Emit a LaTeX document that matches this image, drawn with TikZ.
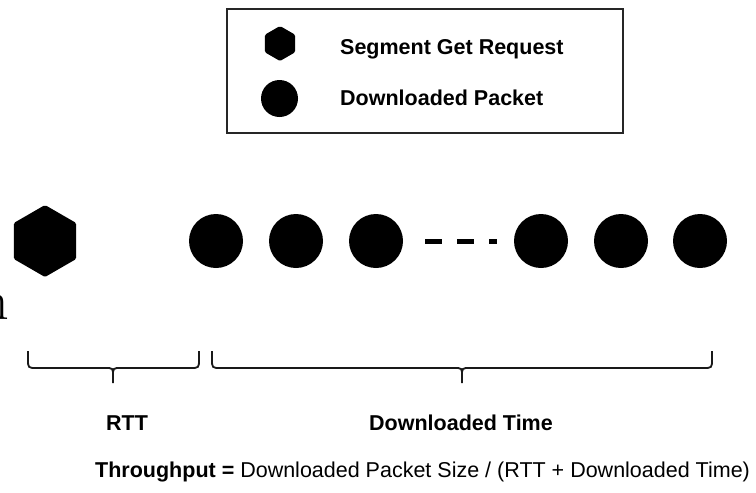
\documentclass[tikz,border=0pt]{standalone}
\usepackage{fontspec}
\newfontfamily\labelfont{Liberation Sans}
\usetikzlibrary{shapes.geometric}

\tikzset{
  hexa/.style={regular polygon, regular polygon sides=6, shape border rotate=30,
    fill=black, draw=none, inner sep=0pt, rounded corners=1.5pt},
  packet/.style={circle, fill=black, draw=none, inner sep=0pt},
  legendbox/.style={draw=black!85, line width=1.6pt, inner sep=0pt},
  lbl/.style={font=\labelfont\fontsize{21.5}{25}\selectfont, inner sep=0pt, text=black},
  brace/.style={draw=black!90, line width=1.8pt},
  gapdash/.style={draw=black, line width=5pt, dash pattern=on 17pt off 15pt},
}

% one horizontal curly bracket: #1 left end, #2 tip, #3 right end
\newcommand\timebrace[3]{%
  \draw[brace] (#1,351) -- (#1,359) .. controls (#1,368) .. (#1+9,368)
    -- (#2-8,368) .. controls (#2,368) .. (#2,376) -- (#2,383);
  \draw[brace] (#2,376) .. controls (#2,368) .. (#2+8,368)
    -- (#3-9,368) .. controls (#3,368) .. (#3,359) -- (#3,351);
}

\begin{document}
\begin{tikzpicture}[x=1pt,y=-1pt]
  \useasboundingbox (0,0) rectangle (756,493);
  \clip (0,0) rectangle (756,493);

  % legend
  \node[legendbox, minimum width=396pt, minimum height=124pt] (legend) at (425,71) {};
  \node[hexa, minimum size=35pt] (lhex) at (280,43.5) {};
  \node[packet, minimum size=37pt] (ldot) at (279.5,98.5) {};
  \node[lbl, anchor=base west] (lreq) at (340,54) {\bfseries Segment Get Request};
  \node[lbl, anchor=base west] (lpkt) at (340,105) {\bfseries Downloaded Packet};

  % request and packet train
  \node[hexa, minimum size=72pt] (req) at (45,241) {};
  \node[packet, minimum size=54pt] (p1) at (216,241) {};
  \node[packet, minimum size=54pt] (p2) at (296,241) {};
  \node[packet, minimum size=54pt] (p3) at (376,241) {};
  \node[packet, minimum size=54pt] (p4) at (541,241) {};
  \node[packet, minimum size=54pt] (p5) at (621,241) {};
  \node[packet, minimum size=54pt] (p6) at (700,241) {};
  \draw[gapdash] ([xshift=22pt,yshift=-0.5pt]p3.east) -- ([xshift=-17pt,yshift=-0.5pt]p4.west);

  % stray glyph at the left edge
  \node[font=\fontsize{56}{60}\selectfont, inner sep=0pt, anchor=base east] (edge) at (9,319) {n};

  % time spans
  \timebrace{28}{113}{199}
  \timebrace{212}{462}{712}
  \node[lbl, anchor=base] (rtt) at (127,430) {\bfseries RTT};
  \node[lbl, anchor=base] (dlt) at (461,430) {\bfseries Downloaded Time};

  % formula
  \node[lbl, anchor=base west] (thr) at (95,477)
    {{\bfseries Throughput =} Downloaded Packet Size / (RTT + Downloaded Time)};
\end{tikzpicture}
\end{document}
